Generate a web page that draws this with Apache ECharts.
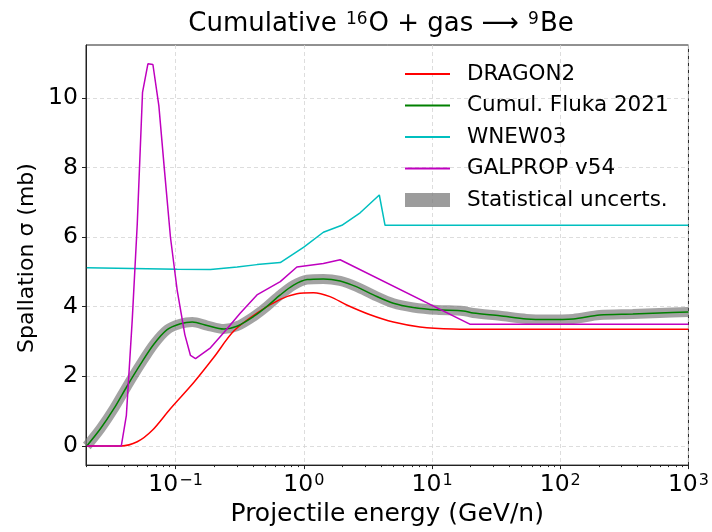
<!DOCTYPE html>
<html>
<head>
<meta charset="utf-8">
<script src="https://cdn.jsdelivr.net/npm/echarts@6/dist/echarts.min.js"></script>
<style>html,body{margin:0;padding:0;background:#fff}#c{width:712px;height:532px}</style>
</head>
<body>
<div id="c"></div>
<script>
// ---- data ----
const seriesNames = ['DRAGON2', 'Cumul. Fluka 2021', 'WNEW03', 'GALPROP v54', 'Statistical uncerts.'];

const dragonE = [0.0203, 0.0375, 0.0502, 0.0658, 0.091, 0.139, 0.198, 0.284, 0.431, 0.655, 0.883, 1.19, 1.60, 2.16, 3.29, 4.99, 8.05, 14.6, 30, 1000];
const dragonY = [0, 0, 0.12, 0.45, 1.07, 1.83, 2.54, 3.30, 3.82, 4.21, 4.37, 4.40, 4.29, 4.05, 3.77, 3.56, 3.42, 3.36, 3.35, 3.35];

const flukaE = [0.0203, 0.026, 0.033, 0.042, 0.0533, 0.0676, 0.0859, 0.109, 0.135, 0.176, 0.237, 0.301, 0.406, 0.516, 0.655, 0.832, 1.06, 1.42, 1.92, 2.59, 3.49, 4.99, 7.14, 10.9, 17.5, 20.9, 33.8, 54.5, 78, 126, 203, 368, 594, 1000];
const flukaY = [0, 0.50, 1.07, 1.73, 2.35, 2.92, 3.34, 3.51, 3.56, 3.46, 3.36, 3.44, 3.72, 4.01, 4.34, 4.62, 4.78, 4.80, 4.74, 4.57, 4.34, 4.10, 3.98, 3.91, 3.88, 3.82, 3.74, 3.65, 3.63, 3.65, 3.76, 3.79, 3.82, 3.85];

const wnewE = [0.0203, 0.1028, 0.187, 0.302, 0.431, 0.655, 1.0, 1.42, 1.98, 2.75, 3.88, 4.3, 1000];
const wnewY = [5.12, 5.08, 5.07, 5.14, 5.21, 5.27, 5.71, 6.14, 6.34, 6.70, 7.21, 6.34, 6.34];

const galpropE = [0.0203, 0.0377, 0.0413, 0.0459, 0.0502, 0.0552, 0.0608, 0.0665, 0.074, 0.082, 0.0912, 0.1028, 0.118, 0.1306, 0.143, 0.187, 0.237, 0.32, 0.431, 0.655, 0.883, 1.42, 1.92, 19.7, 1000];
const galpropY = [0, 0, 0.88, 3.63, 6.37, 10.16, 10.98, 10.96, 9.78, 7.89, 5.99, 4.48, 3.20, 2.60, 2.51, 2.82, 3.25, 3.82, 4.34, 4.72, 5.14, 5.24, 5.35, 3.50, 3.50];

const xMajorTicks = [0.1, 1, 10, 100, 1000];
const xMinorTicks = [];
[0.01, 0.1, 1, 10, 100].forEach(d => { for (let k = 2; k <= 9; k++) { const v = +(d * k).toPrecision(3); if (v >= 0.02 && v <= 1000) xMinorTicks.push(v); } });
const yTicks = [0, 2, 4, 6, 8, 10];

const zip = (a, b) => a.map((v, i) => [v, b[i]]);
const FONT = 'DejaVu Sans';

const chart = echarts.init(document.getElementById('c'), null, {renderer: 'canvas'});
const titleRich = { sup: { fontSize: 17, fontFamily: FONT, color: '#000', verticalAlign: 'top', padding: [0, 1, 9, 1] } };
const tickRich = { sup: { fontSize: 16, fontFamily: FONT, color: '#000', verticalAlign: 'top', padding: [0, 0, 8, 1] } };

const lineSeries = (name, E, Y, color, z, extra) => Object.assign({
  name, type: 'line', data: zip(E, Y), color, showSymbol: false, symbol: 'none',
  lineStyle: { width: 1.5, color }, z, animation: false
}, extra || {});

chart.setOption({
  animation: false,
  grid: { left: 86, right: 23, top: 45, bottom: 62, show: true, borderColor: '#222', borderWidth: 1, backgroundColor: 'transparent' },
  graphic: [{
    type: 'text', x: 381, y: 24,
    style: {
      text: 'Cumulative {sup|16}O + gas ⟶ {sup|9}Be',
      fontSize: 26, fontFamily: FONT, fill: '#000', align: 'center', verticalAlign: 'middle',
      rich: titleRich
    }
  }, {
    type: 'text', x: 27, y: 258, rotation: Math.PI / 2,
    style: {
      text: 'Spallation \u03c3 (mb)',
      fontSize: 22, fontFamily: FONT, fill: '#000', align: 'center', verticalAlign: 'middle'
    }
  }],
  legend: [{
    data: seriesNames.slice(0, 4), orient: 'vertical', left: 400, top: 58,
    icon: 'rect', itemWidth: 45, itemHeight: 2, itemGap: 9.5,
    textStyle: { fontSize: 21.5, fontFamily: FONT, color: '#000', lineHeight: 22, padding: [0, 0, 0, 12] }
  }, {
    data: [seriesNames[4]], orient: 'vertical', left: 400, top: 184,
    icon: 'rect', itemWidth: 45, itemHeight: 14,
    textStyle: { fontSize: 21.5, fontFamily: FONT, color: '#000', lineHeight: 22, padding: [0, 0, 0, 12] }
  }],
  xAxis: [{
    type: 'log', logBase: 10, min: 0.02, max: 1000,
    name: 'Projectile energy (GeV/n)', nameLocation: 'middle', nameGap: 36,
    nameTextStyle: { fontSize: 25, fontFamily: FONT, color: '#000' },
    axisLine: { show: true, onZero: false, lineStyle: { color: '#222', width: 1 } },
    axisTick: { show: true, inside: false, length: 4, lineStyle: { color: '#222' }, customValues: xMajorTicks },
    axisLabel: {
      fontSize: 23.5, fontFamily: FONT, color: '#000', margin: 8, customValues: xMajorTicks,
      formatter: v => { const e = Math.round(Math.log10(v)); return '10{sup|' + (e < 0 ? '\u2212' + (-e) : e) + '}'; },
      rich: tickRich
    },
    splitLine: { show: true, lineStyle: { color: '#d4d4d4', type: [4, 3], width: 0.8 } },
    minorTick: { show: false }
  }, {
    type: 'log', logBase: 10, min: 0.02, max: 1000, position: 'bottom', gridIndex: 0,
    axisLine: { show: false, onZero: false },
    axisTick: { show: true, inside: false, length: 2, lineStyle: { color: '#222' }, customValues: xMinorTicks },
    axisLabel: { show: false },
    splitLine: { show: false }
  }],
  yAxis: {
    type: 'value', min: -0.55, max: 11.52,
    axisLine: { show: true, onZero: false, lineStyle: { color: '#222', width: 1 } },
    axisTick: { show: true, length: 4, lineStyle: { color: '#222' }, customValues: yTicks },
    axisLabel: { fontSize: 23.5, fontFamily: FONT, color: '#000', margin: 8, customValues: yTicks },
    splitLine: { show: true, lineStyle: { color: '#d4d4d4', type: [4, 3], width: 0.8 } }
  },
  series: [
    lineSeries(seriesNames[4], flukaE, flukaY, 'rgba(128,128,128,0.78)', 1, { smooth: 0.3, lineStyle: { width: 10, color: 'rgba(128,128,128,0.72)', cap: 'butt' } }),
    lineSeries(seriesNames[0], dragonE, dragonY, '#ff0000', 2, { smooth: 0.3 }),
    lineSeries(seriesNames[1], flukaE, flukaY, '#008000', 3, { smooth: 0.3 }),
    lineSeries(seriesNames[2], wnewE, wnewY, '#00bfbf', 4),
    lineSeries(seriesNames[3], galpropE, galpropY, '#bf00bf', 5)
  ]
});
</script>
</body>
</html>
